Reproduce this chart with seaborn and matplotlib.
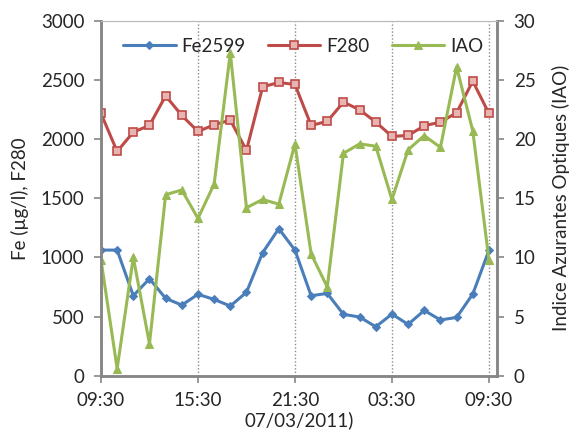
import numpy as np
import pandas as pd
import matplotlib
matplotlib.use("Agg")
import matplotlib.pyplot as plt
import seaborn as sns

# Données (pas horaire, de 09:30 à 09:30)
heures = list(range(25))
fe2599 = [1062, 1062, 676, 820, 654, 597, 688, 645, 589, 705, 1040, 1243, 1062,
          676, 696, 519, 496, 414, 521, 434, 552, 471, 493, 690, 1060]
f280 = [2217, 1896, 2059, 2116, 2366, 2200, 2065, 2121, 2161, 1905, 2442, 2479, 2462,
        2116, 2150, 2313, 2248, 2144, 2023, 2031, 2113, 2144, 2223, 2490, 2217]
iao = [9.8, 0.6, 10.0, 2.7, 15.3, 15.7, 13.3, 16.2, 27.3, 14.2, 14.9, 14.5, 19.6,
       10.3, 7.5, 18.8, 19.6, 19.4, 14.9, 19.1, 20.3, 19.3, 26.1, 20.7, 9.8]
tick_pos = [0, 6, 12, 18, 24]
tick_labels = ["09:30", "15:30", "21:30", "03:30", "09:30"]

df = pd.DataFrame({"h": heures, "Fe2599": fe2599, "F280": f280, "IAO": iao})

sns.set_style("white")
plt.rcParams['font.family'] = ['Lato', 'DejaVu Sans']
fs = 13.5
plt.rcParams['font.size'] = fs

bleu = "#4A7EBB"
rouge = "#BE4B48"
vert = "#98B954"
gris = "#868686"

fig = plt.figure(figsize=(5.79, 4.34), dpi=100)
ax = fig.add_axes([0.1744, 0.1343, 0.684, 0.8177])
ax2 = ax.twinx()

sns.lineplot(data=df, x="h", y="Fe2599", ax=ax, color=bleu, lw=2.2,
             marker="D", markersize=4, markeredgecolor=bleu, label="Fe2599")
sns.lineplot(data=df, x="h", y="F280", ax=ax, color=rouge, lw=2.2,
             marker="s", markersize=6, markerfacecolor="#E8B4B2",
             markeredgecolor=rouge, markeredgewidth=1.2, label="F280")
sns.lineplot(data=df, x="h", y="IAO", ax=ax2, color=vert, lw=2.2,
             marker="^", markersize=6, markeredgecolor=vert, label="IAO")

ax.set_xlim(0, 24.5)
ax.set_ylim(0, 3000)
ax2.set_ylim(0, 30)
ax.set_yticks(range(0, 3001, 500))
ax2.set_yticks(range(0, 31, 5))
ax.set_xticks(tick_pos)
ax.set_xticklabels(tick_labels)

ax.grid(axis="x", linestyle=(0, (1, 1.5)), color="#8C8C8C", lw=1.0)
ax.grid(axis="y", visible=False)

ax.set_ylabel("Fe (µg/l), F280", labelpad=8)
ax2.set_ylabel("Indice Azurantes Optiques (IAO)", labelpad=12)
ax.set_xlabel("07/03/2011)", labelpad=1)

for a in (ax, ax2):
    for s in a.spines.values():
        s.set_color(gris)
        s.set_linewidth(1.8)
    a.spines["top"].set_linewidth(0.8)
    a.spines["top"].set_color("#BBBBBB")
    a.tick_params(axis="both", which="major", length=5, width=1.2, color=gris,
                  direction="out", labelsize=fs, pad=7)

ax.tick_params(left=True, bottom=True)
ax2.tick_params(right=True)

h1, l1 = ax.get_legend_handles_labels()
h2, l2 = ax2.get_legend_handles_labels()
if ax.get_legend():
    ax.get_legend().remove()
if ax2.get_legend():
    ax2.get_legend().remove()
ax2.legend(h1 + h2, l1 + l2, loc="upper center", bbox_to_anchor=(0.51, 1.0),
           ncol=3, frameon=False, handlelength=2.8, columnspacing=1.2,
           handletextpad=0.3, fontsize=fs)

fig.savefig("out.png", dpi=100)
